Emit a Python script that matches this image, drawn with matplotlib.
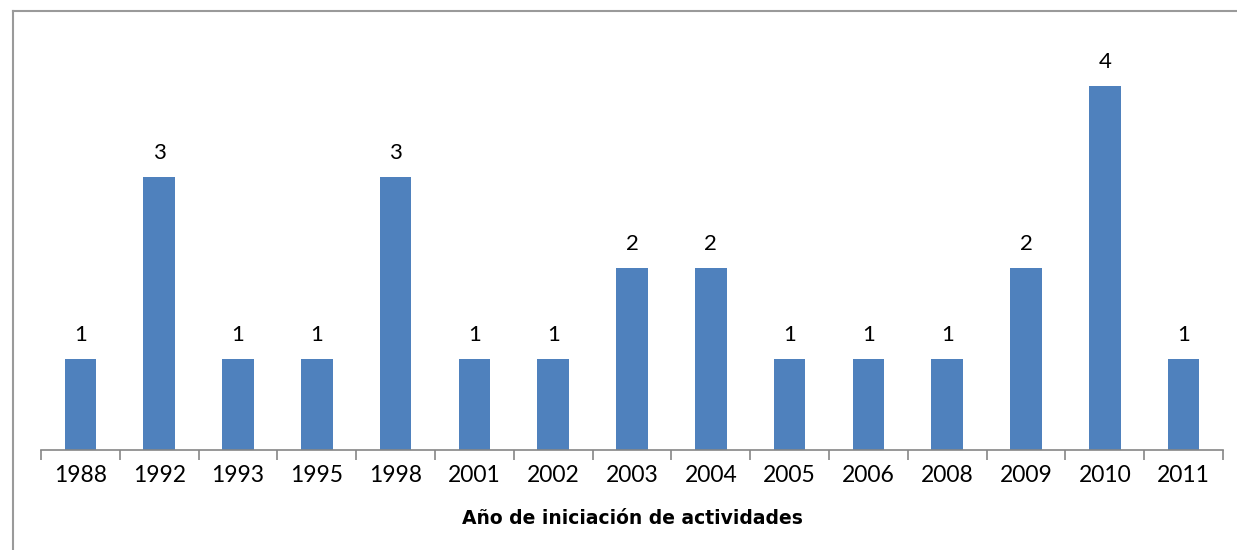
import matplotlib
matplotlib.use("Agg")
import matplotlib.pyplot as plt
from matplotlib.lines import Line2D
import numpy as np

years = ["1988", "1992", "1993", "1995", "1998", "2001", "2002", "2003",
         "2004", "2005", "2006", "2008", "2009", "2010", "2011"]
counts = [1, 3, 1, 1, 3, 1, 1, 2, 2, 1, 1, 1, 2, 4, 1]
xlabel = "Año de iniciación de actividades"

plt.rcParams['font.family'] = ['Lato', 'DejaVu Sans']

fig = plt.figure(figsize=(12.37, 5.5), dpi=100)
ax = fig.add_axes([41 / 1237, 100 / 550, 1182 / 1237, 410 / 550])

x = np.arange(len(years))
bars = ax.bar(x, counts, width=0.4, color="#4F81BD")
for xi, v in zip(x, counts):
    ax.text(xi, v + 0.15, str(v), ha="center", va="bottom", fontsize=16)

ax.set_xlim(-0.5, len(years) - 0.5)
ax.set_ylim(0, 4.5)
ax.set_xticks(x)
ax.set_xticklabels(years, fontsize=16.5)
ax.set_xticks(np.arange(-0.5, len(years)), minor=True)
ax.tick_params(axis="x", which="major", length=0, pad=11)
ax.tick_params(axis="x", which="minor", length=7, color="#868686", width=1.2)
ax.set_yticks([])
for s in ["left", "right", "top"]:
    ax.spines[s].set_visible(False)
ax.spines["bottom"].set_color("#868686")
ax.spines["bottom"].set_linewidth(1.2)
ax.set_xlabel(xlabel, fontsize=13.5, fontweight="bold", labelpad=16,
              family=["DejaVu Sans"])

# outer chart frame (left and top edges visible)
fig.add_artist(Line2D([13 / 1237, 13 / 1237], [0, 1 - 11 / 550],
                      transform=fig.transFigure, color="#9a9a9a", lw=1.5))
fig.add_artist(Line2D([13 / 1237, 1], [1 - 11 / 550, 1 - 11 / 550],
                      transform=fig.transFigure, color="#9a9a9a", lw=1.5))

fig.savefig("out.png", dpi=100)
